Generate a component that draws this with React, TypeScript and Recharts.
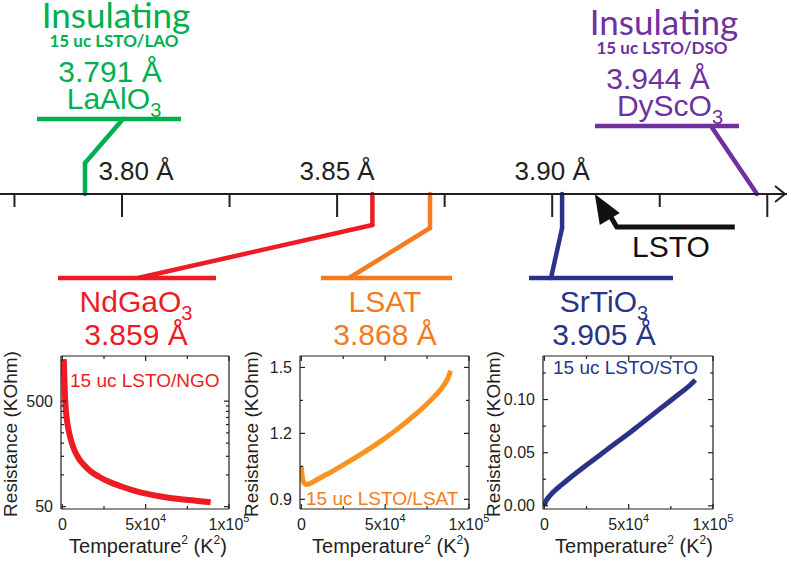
import React from 'react';
import { ComposedChart, LineChart, Line, Scatter, XAxis, YAxis, ReferenceLine, ReferenceDot } from 'recharts';

const SANS = '"Liberation Sans", Arial, Helvetica, sans-serif';
const CALIBRI = 'Lato, "Open Sans", sans-serif';
const INK = '#231F20';

// lattice parameter number line (Å)
const axisTicks = [3.775, 3.8, 3.825, 3.85, 3.875, 3.9, 3.925, 3.95];
const labelledTicks = [3.8, 3.85, 3.9];
const substrates = ['LaAlO3', 'NdGaO3', 'LSAT', 'SrTiO3', 'DyScO3'];
const latticeA = [3.791, 3.859, 3.868, 3.905, 3.944];
// where each leader meets the axis in the figure (the original is not drawn to scale)
const markerA = [3.7914, 3.8582, 3.8716, 3.9023, 3.9476];
const lstoA = 3.9099;
const films = ['15 uc LSTO/LAO', '15 uc LSTO/NGO', '15 uc LSTO/LSAT', '15 uc LSTO/STO', '15 uc LSTO/DSO'];
const colors = ['#00B050', '#ED1C24', '#F47B20', '#2B3388', '#7030A0'];

// R vs T^2 curves
const t2Ngo = [900, 1200, 1600, 2200, 3000, 4000, 5500, 7500, 10000, 13000, 17000, 22000, 28000, 35000, 43000, 51000, 60000, 70000, 80000, 89000];
const rNgo = [1250, 850, 550, 400, 310, 255, 205, 168, 142, 124, 108, 96, 86, 78, 71, 66, 62, 59, 57, 55];
const t2Lsat = [0, 300, 800, 1600, 3000, 5500, 9000, 13000, 18000, 23000, 28000, 33000, 38000, 43000, 48000, 53000, 58000, 63000, 68000, 73000, 78000, 82000, 85000, 87500, 89000];
const rLsat = [1.048, 1.02, 0.99, 0.975, 0.968, 0.973, 0.988, 1.005, 1.025, 1.048, 1.07, 1.093, 1.117, 1.142, 1.168, 1.195, 1.224, 1.254, 1.286, 1.32, 1.357, 1.39, 1.42, 1.452, 1.485];
const t2Sto = [0, 1000, 3000, 6000, 10000, 15000, 20000, 26000, 32000, 38000, 44000, 50000, 56000, 62000, 68000, 74000, 80000, 86000, 89500];
const rSto = [0.0005, 0.0045, 0.009, 0.014, 0.0195, 0.026, 0.0322, 0.0395, 0.0467, 0.054, 0.061, 0.068, 0.0755, 0.083, 0.0905, 0.098, 0.1055, 0.113, 0.1185];

const t2Ticks = [0, 25000, 50000, 75000, 100000];
const ngoTicks = [50, 100, 150, 200, 250, 300, 350, 400, 450, 500];
const ngoMajor = [50, 500];
const lsatTicks = [0.9, 1.05, 1.2, 1.35, 1.5];
const lsatMajor = [0.9, 1.2, 1.5];
const stoTicks = [0, 0.025, 0.05, 0.075, 0.1, 0.125];
const stoMajor = [0, 0.05, 0.1];

const A_MIN = 3.77164;
const A_MAX = 3.95458;
const PX_PER_A = 787 / (A_MAX - A_MIN);
const atPx = (px: number) => A_MIN + px / PX_PER_A;
const AXIS_Y = 194;

// leader lines: vertical drop from the axis (depth), further bends (page px) and the label bar
const leaders = [
  { drop: 163, bends: [[123, 119]], bar: [37, 181, 119] },
  { drop: 225, bends: [[138, 278]], bar: [58, 216, 278] },
  { drop: 228, bends: [[349, 278]], bar: [321, 452, 278] },
  { drop: 228, bends: [[551, 278]], bar: [529, 673, 278] },
  { drop: null, bends: [[711, 126]], bar: [595, 739, 126] },
];

const markerRows = markerA.map((a) => ({ a, y: AXIS_Y }));

function latticeTick(props: any) {
  const { x, y, payload } = props;
  const v = payload.value;
  const major = Math.round(v * 1000) % 50 === 0;
  const label = labelledTicks.includes(v);
  return (
    <g>
      <line x1={x} y1={y} x2={x} y2={y + (major ? 23 : 13)} stroke={INK} strokeWidth={2} />
      {label && (
        <text x={x + (v === 3.8 ? 14 : 0)} y={y - 14} textAnchor="middle" fontSize={26} fontFamily={SANS} fill={INK}>
          {v.toFixed(2)} Å
        </text>
      )}
    </g>
  );
}

function LatticeAxis() {
  const segs: JSX.Element[] = [];
  leaders.forEach((ld, i) => {
    const pts: number[][] = [[markerA[i], AXIS_Y]];
    if (ld.drop !== null) pts.push([markerA[i], ld.drop]);
    ld.bends.forEach(([px, py]) => pts.push([atPx(px), py]));
    for (let k = 0; k < pts.length - 1; k++) {
      segs.push(
        <ReferenceLine
          key={`l${i}-${k}`}
          segment={[{ x: pts[k][0], y: pts[k][1] }, { x: pts[k + 1][0], y: pts[k + 1][1] }]}
          stroke={colors[i]}
          strokeWidth={4.5}
          strokeLinecap="round"
          ifOverflow="visible"
        />
      );
    }
    segs.push(
      <ReferenceLine
        key={`b${i}`}
        segment={[{ x: atPx(ld.bar[0]), y: ld.bar[2] }, { x: atPx(ld.bar[1]), y: ld.bar[2] }]}
        stroke={colors[i]}
        strokeWidth={4.5}
        ifOverflow="visible"
      />
    );
  });
  return (
    <ComposedChart width={787} height={340} data={markerRows} margin={{ top: 0, right: 0, bottom: 145, left: 0 }}>
      <XAxis
        dataKey="a"
        type="number"
        domain={[A_MIN, A_MAX]}
        ticks={axisTicks}
        interval={0}
        allowDataOverflow
        height={1}
        tickSize={0}
        tickMargin={0}
        tickLine={false}
        axisLine={{ stroke: INK, strokeWidth: 2 }}
        tick={latticeTick}
      />
      <YAxis type="number" domain={[0, AXIS_Y]} reversed hide allowDataOverflow />
      <Scatter dataKey="y" shape={() => <g />} isAnimationActive={false} />
      {segs}
      <ReferenceDot
        x={A_MAX}
        y={AXIS_Y}
        ifOverflow="visible"
        shape={(p: any) => (
          <polyline points={`${p.cx - 12},${p.cy - 8} ${p.cx - 2},${p.cy} ${p.cx - 12},${p.cy + 8}`} fill="none" stroke={INK} strokeWidth={2} />
        )}
      />
      <ReferenceDot
        x={lstoA}
        y={AXIS_Y}
        ifOverflow="visible"
        shape={(p: any) => (
          <g>
            <polyline points={`${p.cx + 12},${p.cy + 16} ${p.cx + 22},${p.cy + 33} ${p.cx + 140},${p.cy + 33}`} fill="none" stroke="#111" strokeWidth={5} />
            <polygon points={`${p.cx},${p.cy} ${p.cx + 25},${p.cy + 19} ${p.cx + 5},${p.cy + 31}`} fill="#111" />
          </g>
        )}
      />
    </ComposedChart>
  );
}

function xTickBottom(props: any) {
  const { x, y, payload } = props;
  const v = payload.value;
  const major = v % 50000 === 0;
  return (
    <g>
      <line x1={x} y1={y} x2={x} y2={y - (major ? 5 : 3)} stroke={INK} strokeWidth={1.2} />
      {major && (
        <text x={x} y={y + 21} textAnchor="middle" fontSize={16} fontFamily={SANS} fill={INK}>
          {v === 0 ? '0' : (
            <>
              {v === 50000 ? '5x10' : '1x10'}
              <tspan dy={-8} fontSize={11}>{v === 50000 ? '4' : '5'}</tspan>
            </>
          )}
        </text>
      )}
    </g>
  );
}

function xTickTop(props: any) {
  const { x, y, payload } = props;
  const major = payload.value % 50000 === 0;
  return <line x1={x} y1={y} x2={x} y2={y + (major ? 5 : 3)} stroke={INK} strokeWidth={1.2} />;
}

type PanelProps = {
  t2: number[];
  r: number[];
  color: string;
  left: number;
  width: number;
  marginLeft: number;
  marginRight: number;
  yDomain: number[];
  yTicks: number[];
  yMajor: number[];
  yFmt: (v: number) => string;
  log?: boolean;
  lineWidth: number;
};

function Panel({ t2, r, color, left, width, marginLeft, marginRight, yDomain, yTicks, yMajor, yFmt, log, lineWidth }: PanelProps) {
  const rows = t2.map((t, i) => ({ t2: t, r: r[i] }));
  const frame = { stroke: INK, strokeWidth: 1.2 };
  const yLeft = (p: any) => {
    const v = p.payload.value;
    const major = yMajor.includes(v);
    return (
      <g>
        <line x1={p.x} y1={p.y} x2={p.x + (major ? 5 : 3)} y2={p.y} stroke={INK} strokeWidth={1.2} />
        {major && (
          <text x={p.x - 8} y={p.y} dy="0.35em" textAnchor="end" fontSize={16} fontFamily={SANS} fill={INK}>
            {yFmt(v)}
          </text>
        )}
      </g>
    );
  };
  const yRight = (p: any) => {
    const major = yMajor.includes(p.payload.value);
    return <line x1={p.x} y1={p.y} x2={p.x - (major ? 5 : 3)} y2={p.y} stroke={INK} strokeWidth={1.2} />;
  };
  // axes are 1px thick so that the plot box lands where the margins put it
  return (
    <div style={{ position: 'absolute', left, top: 340 }}>
      <LineChart width={width} height={227} data={rows} margin={{ top: 15, right: marginRight - 1, bottom: 57, left: marginLeft - 1 }}>
        <XAxis xAxisId="b" dataKey="t2" type="number" domain={[-800, 100000]} ticks={t2Ticks} interval={0} allowDataOverflow height={1} tickSize={0} tickMargin={0} tickLine={false} axisLine={frame} tick={xTickBottom} />
        <XAxis xAxisId="t" orientation="top" dataKey="t2" type="number" domain={[-800, 100000]} ticks={t2Ticks} interval={0} allowDataOverflow height={1} tickSize={0} tickMargin={0} tickLine={false} axisLine={frame} tick={xTickTop} />
        <YAxis yAxisId="l" type="number" scale={log ? 'log' : 'linear'} domain={yDomain} ticks={yTicks} interval={0} allowDataOverflow width={1} tickSize={0} tickMargin={0} tickLine={false} axisLine={frame} tick={yLeft} />
        <YAxis yAxisId="r" orientation="right" type="number" scale={log ? 'log' : 'linear'} domain={yDomain} ticks={yTicks} interval={0} allowDataOverflow width={1} tickSize={0} tickMargin={0} tickLine={false} axisLine={frame} tick={yRight} />
        <Line xAxisId="b" yAxisId="l" dataKey="r" type="monotone" stroke={color} strokeWidth={lineWidth} dot={false} isAnimationActive={false} />
      </LineChart>
    </div>
  );
}

function Chem({ name, subSize, ...rest }: any) {
  const m = name.match(/^(.*?)(\d)$/);
  if (!m) return <text {...rest}>{name}</text>;
  return (
    <text {...rest}>
      {m[1]}
      <tspan dy={8} fontSize={subSize}>{m[2]}</tspan>
    </text>
  );
}

function TempLabel({ x }: { x: number }) {
  return (
    <text x={x} y={553} textAnchor="middle" fontSize={20} fontFamily={SANS} fill={INK}>
      Temperature<tspan dy={-9} fontSize={12}>2</tspan>
      <tspan dy={9}> (K</tspan>
      <tspan dy={-9} fontSize={12}>2</tspan>
      <tspan dy={9}>)</tspan>
    </text>
  );
}

function ResLabel({ x }: { x: number }) {
  return (
    <text x={x} y={434} transform={`rotate(-90 ${x} 434)`} textAnchor="middle" fontSize={19} fontFamily={SANS} fill={INK}>
      Resistance (KOhm)
    </text>
  );
}

function Annotations() {
  // top labels (insulating cases) and bottom labels (metallic cases)
  const top = [
    { i: 0, cx: 116, base: 28 },
    { i: 4, cx: 664, base: 35 },
  ];
  const bottom = [
    { i: 1, cx: 136 },
    { i: 2, cx: 385 },
    { i: 3, cx: 604 },
  ];
  return (
    <svg width={787} height={567} style={{ position: 'absolute', left: 0, top: 0, pointerEvents: 'none' }}>
      {top.map(({ i, cx, base }) => (
        <g key={i} fill={colors[i]} textAnchor="middle">
          <text x={cx} y={base} fontSize={35} fontFamily={CALIBRI}>Insulating</text>
          <text x={cx - 2} y={base + 19} fontSize={17} fontWeight={700} fontFamily={CALIBRI}>{films[i]}</text>
          <text x={cx - 6} y={base + 54} fontSize={30} fontFamily={SANS}>{latticeA[i].toFixed(3)} Å</text>
          <Chem name={substrates[i]} subSize={20} x={cx + (i === 4 ? 6 : -2)} y={base + 81} fontSize={30} fontFamily={SANS} />
        </g>
      ))}
      {bottom.map(({ i, cx }) => (
        <g key={i} fill={colors[i]} textAnchor="middle">
          <Chem name={substrates[i]} subSize={20} x={cx} y={312} fontSize={30} fontFamily={SANS} />
          <text x={cx} y={345} fontSize={30} fontFamily={SANS}>{latticeA[i].toFixed(3)} Å</text>
        </g>
      ))}
      <text x={671} y={257} textAnchor="middle" fontSize={30} fontFamily={SANS} fill="#111">LSTO</text>
      <text x={70} y={387} fontSize={19} fontFamily={SANS} fill={colors[1]}>{films[1]}</text>
      <text x={306} y={505} fontSize={19} fontFamily={SANS} fill={colors[2]}>{films[2]}</text>
      <text x={553} y={374} fontSize={19} fontFamily={SANS} fill={colors[3]}>{films[3]}</text>
      <ResLabel x={17} />
      <ResLabel x={258} />
      <ResLabel x={500} />
      <TempLabel x={148} />
      <TempLabel x={391} />
      <TempLabel x={634} />
    </svg>
  );
}

export default function App() {
  return (
    <div style={{ position: 'absolute', left: 0, top: 0, width: 787, height: 567, background: '#fff', overflow: 'hidden', fontFamily: SANS }}>
      <div style={{ position: 'absolute', left: 0, top: 0 }}>
        <LatticeAxis />
      </div>
      <Panel t2={t2Ngo} r={rNgo} color={colors[1]} left={0} width={262} marginLeft={61} marginRight={33} yDomain={[47.5, 1340]} yTicks={ngoTicks} yMajor={ngoMajor} yFmt={(v) => String(v)} log lineWidth={6} />
      <Panel t2={t2Lsat} r={rLsat} color="#F7931E" left={240} width={262} marginLeft={60} marginRight={33} yDomain={[0.856, 1.552]} yTicks={lsatTicks} yMajor={lsatMajor} yFmt={(v) => v.toFixed(1)} lineWidth={5} />
      <Panel t2={t2Sto} r={rSto} color={colors[3]} left={485} width={262} marginLeft={58} marginRight={34} yDomain={[-0.003, 0.141]} yTicks={stoTicks} yMajor={stoMajor} yFmt={(v) => v.toFixed(2)} lineWidth={5} />
      <Annotations />
    </div>
  );
}
